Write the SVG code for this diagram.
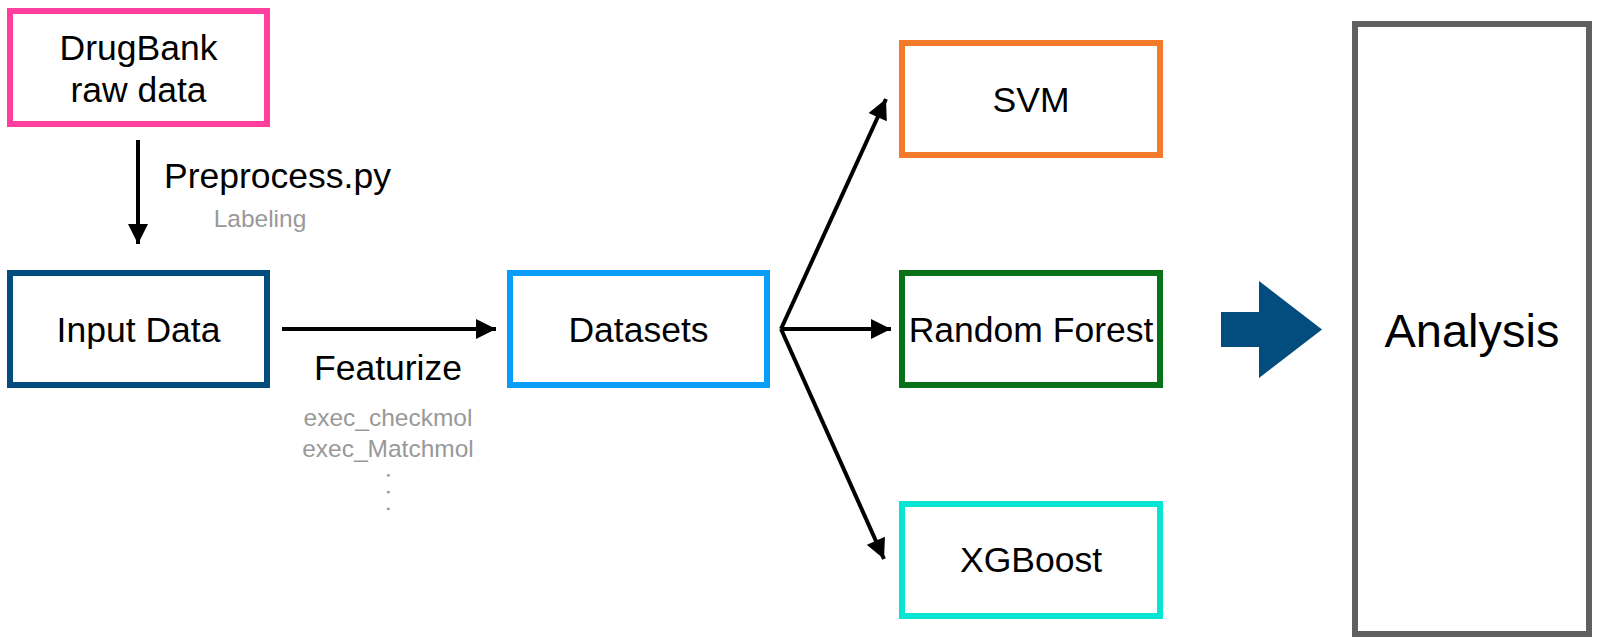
<svg xmlns="http://www.w3.org/2000/svg" width="1597" height="643" viewBox="0 0 1597 643">
  <style>
    .box { fill: #ffffff; stroke-width: 6; }
    .lbl { font-family: "Liberation Sans", Arial, sans-serif; font-size: 35.5px; fill: #000000; text-anchor: middle; }
    .sub { font-family: "Liberation Sans", Arial, sans-serif; font-size: 24.5px; fill: #999999; text-anchor: middle; }
    .edge { stroke: #000000; stroke-width: 4; fill: none; }
  </style>
  <defs>
    <marker id="ah" viewBox="0 0 10 10" refX="10" refY="5" markerWidth="5.5" markerHeight="5" markerUnits="strokeWidth" orient="auto">
      <path d="M0,0 L10,5 L0,10 Z" fill="#000000"/>
    </marker>
  </defs>
  <rect x="0" y="0" width="1597" height="643" fill="#ffffff"/>

  <g id="drugbank">
    <rect class="box" x="10" y="11" width="257" height="113" stroke="#FF3E9E"/>
    <text class="lbl" x="138.5" y="60">DrugBank</text>
    <text class="lbl" x="138.5" y="102">raw data</text>
  </g>

  <g id="input-data">
    <rect class="box" x="10" y="273" width="257" height="112" stroke="#034C7E"/>
    <text class="lbl" x="138.5" y="342">Input Data</text>
  </g>

  <g id="datasets">
    <rect class="box" x="510" y="273" width="257" height="112" stroke="#0A9DF5"/>
    <text class="lbl" x="638.5" y="342">Datasets</text>
  </g>

  <g id="svm">
    <rect class="box" x="902" y="43" width="258" height="112" stroke="#F47A2A"/>
    <text class="lbl" x="1031" y="112">SVM</text>
  </g>

  <g id="random-forest">
    <rect class="box" x="902" y="273" width="258" height="112" stroke="#077217"/>
    <text class="lbl" x="1031" y="342">Random Forest</text>
  </g>

  <g id="xgboost">
    <rect class="box" x="902" y="504" width="258" height="112" stroke="#05E5D2"/>
    <text class="lbl" x="1031" y="572">XGBoost</text>
  </g>

  <g id="analysis">
    <rect class="box" x="1355" y="24" width="234" height="610" stroke="#606060"/>
    <text class="lbl" x="1472" y="347" style="font-size:47px">Analysis</text>
  </g>

  <g id="connectors">
    <line class="edge" x1="138" y1="140" x2="138" y2="244" marker-end="url(#ah)"/>
    <text class="lbl" x="164" y="188" style="text-anchor:start">Preprocess.py</text>
    <text class="sub" x="260" y="227">Labeling</text>

    <line class="edge" x1="282" y1="329" x2="496" y2="329" marker-end="url(#ah)"/>
    <text class="lbl" x="388" y="380">Featurize</text>
    <text class="sub" x="388" y="426">exec_checkmol</text>
    <text class="sub" x="388" y="457">exec_Matchmol</text>
    <text class="sub" x="0" y="0" style="text-anchor:start;letter-spacing:10px" transform="translate(387,472) rotate(90)">...</text>

    <line class="edge" x1="781" y1="329" x2="886" y2="99" marker-end="url(#ah)"/>
    <line class="edge" x1="781" y1="329" x2="891" y2="329" marker-end="url(#ah)"/>
    <line class="edge" x1="781" y1="329" x2="884" y2="559" marker-end="url(#ah)"/>

    <polygon points="1221,312 1259,312 1259,281 1322,329.5 1259,378 1259,347 1221,347" fill="#034C7E"/>
  </g>
</svg>
